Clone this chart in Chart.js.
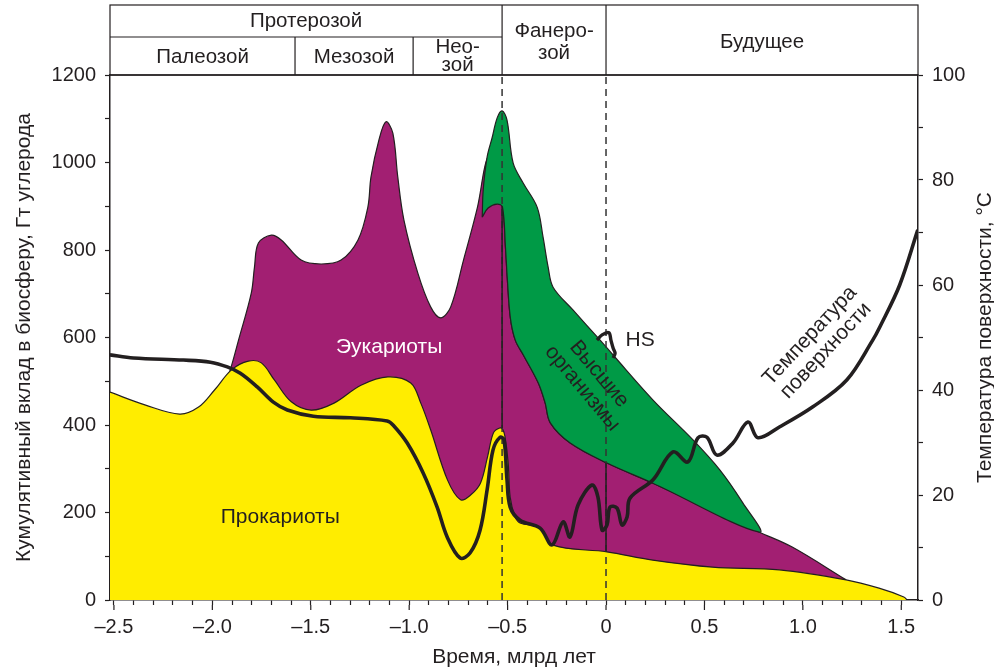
<!DOCTYPE html>
<html><head><meta charset="utf-8">
<script src="https://cdn.jsdelivr.net/npm/chart.js@4.4.0/dist/chart.umd.min.js"></script>
<style>html,body{margin:0;padding:0;background:#fff}canvas{display:block}</style>
</head><body>
<canvas id="c" width="994" height="672"></canvas>
<script>
// ---- data (time in billion years, biomass in Gt C, temperature in °C) ----
const prokaryotes = [[-2.52,475],[-2.343,446],[-2.166,425],[-2.07,441],[-1.989,480],[-1.903,526],[-1.817,546],[-1.751,542],[-1.685,503],[-1.599,453],[-1.498,434],[-1.382,450],[-1.245,491],[-1.108,510],[-0.992,496],[-0.941,450],[-0.891,389],[-0.805,274],[-0.739,229],[-0.688,240],[-0.638,267],[-0.602,327],[-0.572,382],[-0.54,393],[-0.525,390],[-0.513,373],[-0.497,313],[-0.487,235],[-0.462,190],[-0.437,176],[-0.334,165],[-0.273,126],[0.005,110],[0.238,91],[0.541,75],[0.881,69],[1.22,46],[1.387,27],[1.513,7],[1.53,0]];
const eukaryotesEarly = [[-1.95,470],[-1.903,535],[-1.867,594],[-1.802,702],[-1.786,761],[-1.766,816],[-1.70,834],[-1.65,823],[-1.549,777],[-1.447,768],[-1.346,777],[-1.26,823],[-1.21,898],[-1.194,967],[-1.154,1051],[-1.118,1093],[-1.083,1067],[-1.058,967],[-1.027,869],[-0.956,747],[-0.891,670],[-0.84,645],[-0.789,670],[-0.724,777],[-0.653,898],[-0.602,1010],[-0.567,960]];
const eukaryotesLate = [[-0.526,898],[-0.511,807],[-0.501,731],[-0.486,645],[-0.461,594],[-0.42,560],[-0.344,496],[-0.309,450],[-0.283,405],[-0.182,359],[0.005,313],[0.238,267],[0.779,155]];
const eukaryotesFuture = [[0.946,121],[1.22,46]];
const higherTop = [[-0.629,875],[-0.624,937],[-0.604,1013],[-0.579,1056],[-0.553,1102],[-0.528,1118],[-0.503,1097],[-0.472,999],[-0.421,953],[-0.35,898],[-0.32,830],[-0.294,761],[-0.269,715],[-0.168,663],[-0.03,594],[0.036,560],[0.239,457],[0.442,366],[0.579,297],[0.695,222]];
const higherHook = [[-0.553,905],[-0.599,896],[-0.629,875]];
const temperature = [[-2.52,46.7],[-2.401,46.1],[-2.147,45.7],[-2.01,45.3],[-1.924,44.4],[-1.858,43.2],[-1.772,40.6],[-1.69,37.7],[-1.619,36.2],[-1.487,35.0],[-1.299,34.7],[-1.112,34.1],[-1.081,33.3],[-1.01,29.9],[-0.929,24.2],[-0.858,17.7],[-0.807,12.0],[-0.741,8.0],[-0.69,9.0],[-0.64,13.3],[-0.604,21.0],[-0.574,28.6],[-0.538,31.0],[-0.518,30.5],[-0.503,22.9],[-0.487,17.7],[-0.437,15.2],[-0.335,13.7],[-0.274,10.5],[-0.218,14.9],[-0.183,12.0],[-0.142,18.1],[-0.071,21.9],[-0.041,19.6],[-0.02,13.3],[0.005,14.3],[0.02,17.7],[0.056,17.5],[0.081,14.3],[0.107,15.8],[0.122,19.4],[0.239,22.9],[0.34,28.2],[0.416,26.3],[0.467,30.9],[0.513,31.0],[0.563,27.6],[0.645,29.9],[0.721,33.9],[0.772,30.9],[0.883,33.0],[1.051,36.8],[1.223,41.9],[1.355,49.5],[1.391,52.0],[1.492,60.0],[1.584,70.5]];
const hsLoop = [[-0.046,49.5],[-0.02,50.5],[0.015,50.9],[0.025,49.5],[0.036,48.0],[0.046,47.0],[0.036,46.1]];
const phanerozoicStart = -0.528, present = 0;
const phanerozoicSolid = [[phanerozoicStart,393],[phanerozoicStart,900]];
const presentSolid = [[present,110],[present,313]];
const guideSpan = [0,1200];
const eraBounds = [-1.58, -0.98, phanerozoicStart, present];
const eraTop = ['Протерозой'];
const eraBottom = ['Палеозой','Мезозой',['Нео-','зой']];
const eraRight = [['Фанеро-','зой'],['Будущее']];
const xRange = [-2.52, 1.585];
const biomassRange = [0,1200], tempRange = [0,100];

// ---- helpers ----
const INK = '#231f20';
const FONT = '"Liberation Sans", Arial, sans-serif';
const xy = a => a.map(p => ({x:p[0], y:p[1]}));
const purpleAll = eukaryotesEarly.concat(eukaryotesLate, eukaryotesFuture);
const greenShape = higherTop.concat(eukaryotesLate.slice().reverse(), higherHook);
const areaBase = {pointRadius:0, borderColor:INK, borderWidth:1.2, tension:0.35, yAxisID:'y'};

const datasets = [
  {label:'HS', data:xy(hsLoop), yAxisID:'yT', borderColor:INK, borderWidth:3.4, pointRadius:0, tension:0.3, fill:false, order:0},
  {label:'Температура', data:xy(temperature), yAxisID:'yT', borderColor:INK, borderWidth:3.6, pointRadius:0, tension:0.35, fill:false, order:1},
  {label:'s1', data:xy(phanerozoicSolid), yAxisID:'y', borderColor:INK, borderWidth:1.5, pointRadius:0, fill:false, order:2},
  {label:'s2', data:xy(presentSolid), yAxisID:'y', borderColor:INK, borderWidth:1.5, pointRadius:0, fill:false, order:2},
  {label:'d1', data:xy(guideSpan.map(v=>[phanerozoicStart,v])), yAxisID:'y', borderColor:'#333', borderWidth:1.5, borderDash:[7,5], pointRadius:0, fill:false, order:3},
  {label:'d2', data:xy(guideSpan.map(v=>[present,v])), yAxisID:'y', borderColor:'#333', borderWidth:1.5, borderDash:[7,5], pointRadius:0, fill:false, order:3},
  Object.assign({label:'Прокариоты', data:xy(prokaryotes), backgroundColor:'#FFED00', fill:'origin', order:4}, areaBase),
  Object.assign({label:'Высшие организмы', data:xy(greenShape.concat([greenShape[0]])), backgroundColor:'#009A46', fill:'shape', order:5}, areaBase),
  Object.assign({label:'Эукариоты', data:xy(purpleAll), backgroundColor:'#A21F72', fill:'origin', order:6}, areaBase)
];

const labels = [
  {lines:['Эукариоты'], x:-1.102, y:578, color:'#ffffff', angle:0},
  {lines:['Прокариоты'], x:-1.655, y:190, color:INK, angle:0},
  {lines:['Высшие','организмы'], x:-0.078, y:500, color:INK, angle:50},
  {lines:['HS'], x:0.173, y:594, color:INK, angle:0},
  {lines:['Температура','поверхности'], x:1.076, y:587, color:INK, angle:-47}
];

const overlay = {
  id:'overlay',
  afterDatasetsDraw(chart){
    const {ctx, scales:{x,y}} = chart;
    ctx.save();
    ctx.font = '21px ' + FONT;
    ctx.textAlign = 'center'; ctx.textBaseline = 'middle';
    labels.forEach(l => {
      ctx.save();
      ctx.translate(x.getPixelForValue(l.x), y.getPixelForValue(l.y));
      ctx.rotate(l.angle*Math.PI/180);
      ctx.fillStyle = l.color;
      const lh = 22, n = l.lines.length;
      l.lines.forEach((s,i) => ctx.fillText(s, 0, (i-(n-1)/2)*lh));
      ctx.restore();
    });
    ctx.restore();
  },
  afterDraw(chart){
    const {ctx, scales:{x}, chartArea:a} = chart;
    ctx.save();
    ctx.strokeStyle = INK; ctx.fillStyle = INK;
    const ln = (x1,y1,x2,y2,w) => {ctx.lineWidth=w||1.2; ctx.beginPath(); ctx.moveTo(x1,y1); ctx.lineTo(x2,y2); ctx.stroke();};
    // major tick extension
    x.ticks.forEach(t => { if (Math.round(t.value*10)%5===0){ const px=x.getPixelForValue(t.value); ln(px,a.bottom+5,px,a.bottom+10,1.2);} });
    // table
    const tTop=5, tMid=37, tBot=a.top;
    ctx.lineWidth = 1.2;
    ctx.strokeRect(a.left, tTop, a.right-a.left, tBot-tTop);
    const bx = eraBounds.map(v => x.getPixelForValue(v));
    ln(a.left,tMid,bx[2],tMid);
    ln(bx[0],tMid,bx[0],tBot); ln(bx[1],tMid,bx[1],tBot);
    ln(bx[2],tTop,bx[2],tBot); ln(bx[3],tTop,bx[3],tBot);
    ln(a.left,tBot,a.right,tBot,1.5);
    ctx.font = '20.5px ' + FONT; ctx.textAlign='center'; ctx.textBaseline='middle';
    ctx.fillText(eraTop[0], (a.left+bx[2])/2, 21);
    const bcells = [[a.left,bx[0]],[bx[0],bx[1]],[bx[1],bx[2]]];
    eraBottom.forEach((e,i) => {
      const cx = (bcells[i][0]+bcells[i][1])/2;
      if (Array.isArray(e)) { ctx.fillText(e[0], cx, 47); ctx.fillText(e[1], cx, 65); }
      else ctx.fillText(e, cx, 57);
    });
    const ph = eraRight[0];
    ctx.fillText(ph[0], (bx[2]+bx[3])/2, 31); ctx.fillText(ph[1], (bx[2]+bx[3])/2, 53);
    ctx.fillText(eraRight[1][0], (bx[3]+a.right)/2, 42);
    // axis titles
    ctx.font = '21px ' + FONT;
    ctx.fillText('Время, млрд лет', (a.left+a.right)/2, 657);
    ctx.save(); ctx.translate(24,(a.top+a.bottom)/2); ctx.rotate(-Math.PI/2);
    ctx.fillText('Кумулятивный вклад в биосферу, Гт углерода',0,0); ctx.restore();
    ctx.save(); ctx.translate(985,(a.top+a.bottom)/2); ctx.rotate(-Math.PI/2);
    ctx.fillText('Температура поверхности, °C',0,0); ctx.restore();
    ctx.restore();
  }
};

const tickFont = {family:FONT, size:20};
new Chart(document.getElementById('c'), {
  type:'line',
  data:{datasets},
  options:{
    responsive:false, animation:false, devicePixelRatio:1,
    layout:{padding:{top:75}},
    plugins:{legend:{display:false}, tooltip:{enabled:false}},
    scales:{
      x:{type:'linear', position:'bottom', min:xRange[0], max:xRange[1],
         afterFit:s=>{s.height=72;},
         grid:{drawOnChartArea:false, tickLength:5, color:INK, tickColor:INK, tickWidth:1.2},
         border:{display:true, color:INK, width:1.5},
         ticks:{stepSize:0.1, includeBounds:false, autoSkip:false, maxRotation:0, color:INK, font:tickFont, padding:10,
           callback:v=>{const r=Math.round(v*10); if(r%5!==0) return ''; if(r===0) return '0'; return (v<0?'–':'')+Math.abs(v).toFixed(1);}}},
      y:{type:'linear', position:'left', min:biomassRange[0], max:biomassRange[1],
         afterFit:s=>{s.width=110;},
         grid:{drawOnChartArea:false, tickLength:5, tickColor:INK, tickWidth:1.2},
         border:{display:true, color:INK, width:1.5},
         ticks:{stepSize:100, color:INK, font:tickFont, padding:9, callback:v=>v%200===0?String(v):''}},
      yT:{type:'linear', position:'right', min:tempRange[0], max:tempRange[1],
         afterFit:s=>{s.width=76;},
         grid:{drawOnChartArea:false, tickLength:5, tickColor:INK, tickWidth:1.2},
         border:{display:true, color:INK, width:1.5},
         ticks:{stepSize:10, color:INK, font:tickFont, padding:9, callback:v=>v%20===0?String(v):''}}
    }
  },
  plugins:[overlay]
});
</script>
</body></html>
